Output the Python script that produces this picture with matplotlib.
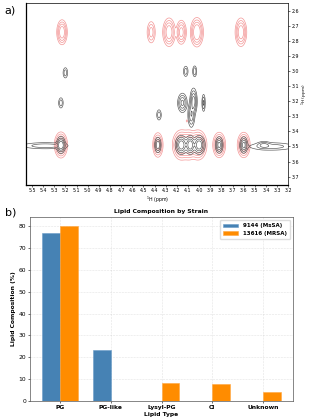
import numpy as np
import matplotlib
matplotlib.use('Agg')
import matplotlib.pyplot as plt

# ---- panel a: 2D NMR peaks (x ppm, y ppm, x width, y width, height)
red_x = [5.23, 4.43, 4.27, 4.16, 4.02, 3.625,
         5.24, 4.37, 4.16, 4.09, 4.01, 3.82, 3.60, 4.11]
red_y = [2.74, 2.74, 2.74, 2.74, 2.74, 2.74,
         3.49, 3.49, 3.49, 3.49, 3.49, 3.49, 3.49, 3.33]
red_sx = [0.02, 0.018, 0.024, 0.02, 0.024, 0.022,
          0.024, 0.02, 0.032, 0.028, 0.032, 0.024, 0.024, 0.006]
red_sy = [0.035, 0.035, 0.04, 0.035, 0.04, 0.04,
          0.035, 0.035, 0.04, 0.04, 0.04, 0.035, 0.035, 0.008]
red_h = [1.0, 0.45, 1.0, 0.8, 1.2, 1.0,
         1.3, 0.9, 1.4, 1.2, 1.4, 1.1, 1.1, 0.09]

blk_x = [5.20, 5.24, 4.12, 4.04, 4.15, 4.05, 3.96, 4.07, 4.36,
         5.24, 4.37, 4.16, 4.08, 4.00, 3.82, 3.60, 5.38, 3.42, 3.35]
blk_y = [3.01, 3.21, 3.00, 3.00, 3.21, 3.20, 3.21, 3.29, 3.29,
         3.49, 3.49, 3.49, 3.49, 3.49, 3.49, 3.49, 3.495, 3.49, 3.50]
blk_sx = [0.012, 0.012, 0.012, 0.01, 0.02, 0.015, 0.008, 0.015, 0.012,
          0.018, 0.014, 0.024, 0.02, 0.024, 0.016, 0.016, 0.12, 0.03, 0.12]
blk_sy = [0.02, 0.02, 0.02, 0.02, 0.03, 0.04, 0.03, 0.04, 0.02,
          0.025, 0.025, 0.028, 0.028, 0.028, 0.025, 0.025, 0.012, 0.012, 0.015]
blk_h = [0.5, 0.5, 0.5, 0.6, 1.2, 1.4, 0.7, 1.0, 0.5,
         1.6, 1.0, 1.6, 1.6, 1.6, 1.3, 1.3, 0.5, 0.6, 0.45]

# ---- panel b: lipid composition
lipids = ['PG', 'PG-like', 'Lysyl-PG', 'Cl', 'Unknown']
mssa = [76.7, 23.4, 0, 0, 0]
mrsa = [80.1, 0, 8.3, 7.6, 4.2]


def field(xs, ys, px, py, sx, sy, h):
    X, Y = np.meshgrid(xs, ys)
    Z = np.zeros_like(X)
    for a, b, c, d, e in zip(px, py, sx, sy, h):
        Z += e * np.exp(-((X - a) ** 2 / (2 * c ** 2) + (Y - b) ** 2 / (2 * d ** 2)))
    return X, Y, Z


fig = plt.figure(figsize=(3.1, 4.2), dpi=100)

ax1 = fig.add_axes([0.085, 0.56, 0.845, 0.433])
xs = np.linspace(3.2, 5.55, 600)
ys = np.linspace(2.55, 3.75, 400)
X, Y, Zr = field(xs, ys, red_x, red_y, red_sx, red_sy, red_h)
_, _, Zb = field(xs, ys, blk_x, blk_y, blk_sx, blk_sy, blk_h)
ax1.contour(X, Y, Zr, levels=[0.06, 0.15, 0.3, 0.55],
            colors='#f07c7c', linewidths=0.5, alpha=0.8)
ax1.contour(X, Y, Zb, levels=[0.12, 0.3, 0.6, 1.0],
            colors='#505050', linewidths=0.45)
ax1.set_xlim(5.55, 3.2)
ax1.set_ylim(3.755, 2.545)
ax1.set_xticks(np.arange(32, 56)[::-1] / 10)
ax1.set_yticks(np.arange(26, 38) / 10)
ax1.yaxis.tick_right()
ax1.yaxis.set_label_position('right')
ax1.tick_params(labelsize=3.4, length=1.5, width=0.4, pad=1)
ax1.set_xlabel('$^{1}$H (ppm)', fontsize=3.4, labelpad=1)
ax1.set_ylabel('$^{1}$H (ppm)', fontsize=3.2, labelpad=0.5)
for s in ax1.spines.values():
    s.set_linewidth(0.5)
ax1.spines['left'].set_linewidth(0.9)
ax1.spines['bottom'].set_linewidth(0.9)
fig.text(0.015, 0.975, 'a)', fontsize=8, va='center')

ax2 = fig.add_axes([0.097, 0.045, 0.848, 0.438])
idx = np.arange(len(lipids))
w = 0.35
ax2.bar(idx - w / 2, mssa, w, color='#4682B4', edgecolor='#6a9cc8', linewidth=0.4,
        label='9144 (MsSA)', zorder=3)
ax2.bar(idx + w / 2, mrsa, w, color='#FF8C00', edgecolor='#ffa640', linewidth=0.4,
        label='13616 (MRSA)', zorder=3)
ax2.set_xticks(idx)
ax2.set_xticklabels(lipids, fontweight='bold')
ax2.set_yticks(range(0, 90, 10))
ax2.grid(True, linestyle='--', linewidth=0.4, alpha=0.35, zorder=0)
ax2.tick_params(labelsize=4.3, length=1.5, width=0.4, pad=1.5)
ax2.set_title('Lipid Composition by Strain', fontsize=4.3, fontweight='bold', pad=3)
ax2.set_xlabel('Lipid Type', fontsize=4.3, fontweight='bold', labelpad=1)
ax2.set_ylabel('Lipid Composition (%)', fontsize=4.3, fontweight='bold', labelpad=2)
for s in ax2.spines.values():
    s.set_linewidth(0.5)
    s.set_color('#555555')
ax2.legend(loc='upper right', prop={'size': 4, 'weight': 'bold'}, handlelength=2.8,
           handleheight=0.6, borderpad=0.6, labelspacing=0.5, framealpha=1,
           edgecolor='#dddddd', fancybox=True)
fig.text(0.015, 0.493, 'b)', fontsize=8, va='center')

fig.savefig('out.png', dpi=100)
